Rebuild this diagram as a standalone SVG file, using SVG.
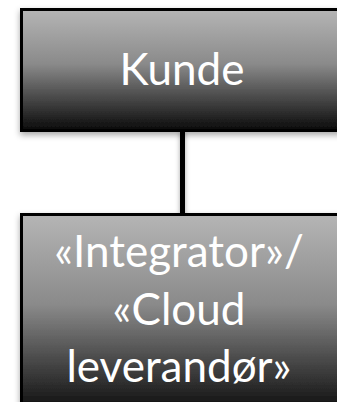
<svg xmlns="http://www.w3.org/2000/svg" width="337" height="402" viewBox="0 0 337 402">
  <defs>
    <linearGradient id="boxFill" x1="0" y1="0" x2="0" y2="1">
      <stop offset="0" stop-color="#b5b5b5"/>
      <stop offset="0.45" stop-color="#8a8a8a"/>
      <stop offset="1" stop-color="#0a0a0a"/>
    </linearGradient>
    <filter id="softShadow" x="-20%" y="-20%" width="140%" height="140%">
      <feDropShadow dx="0" dy="3" stdDeviation="3" flood-color="#000" flood-opacity="0.35"/>
    </filter>
    <filter id="linkShadow" x="-300%" y="-10%" width="700%" height="120%">
      <feDropShadow dx="0" dy="2" stdDeviation="2.5" flood-color="#000" flood-opacity="0.35"/>
    </filter>
    <style>
      .box { fill: url(#boxFill); stroke: #000; stroke-width: 3; filter: url(#softShadow); }
      .label { font-family: "Lato", "Open Sans", "Liberation Sans", sans-serif; font-size: 44px; fill: #ffffff; text-anchor: middle; }
      .link { fill: #000; filter: url(#linkShadow); }
    </style>
  </defs>

  <g id="connectors">
    <rect class="link" x="180" y="130" width="5" height="85"/>
  </g>

  <g id="kunde">
    <rect class="box" x="21.5" y="9.5" width="322" height="121"/>
    <text class="label" x="182" y="85">Kunde</text>
  </g>

  <g id="integrator">
    <rect class="box" x="21.5" y="214.5" width="322" height="200"/>
    <text class="label" x="179" y="267">«Integrator»/</text>
    <text class="label" x="179" y="325">«Cloud</text>
    <text class="label" x="179" y="382">leverandør»</text>
  </g>
</svg>
